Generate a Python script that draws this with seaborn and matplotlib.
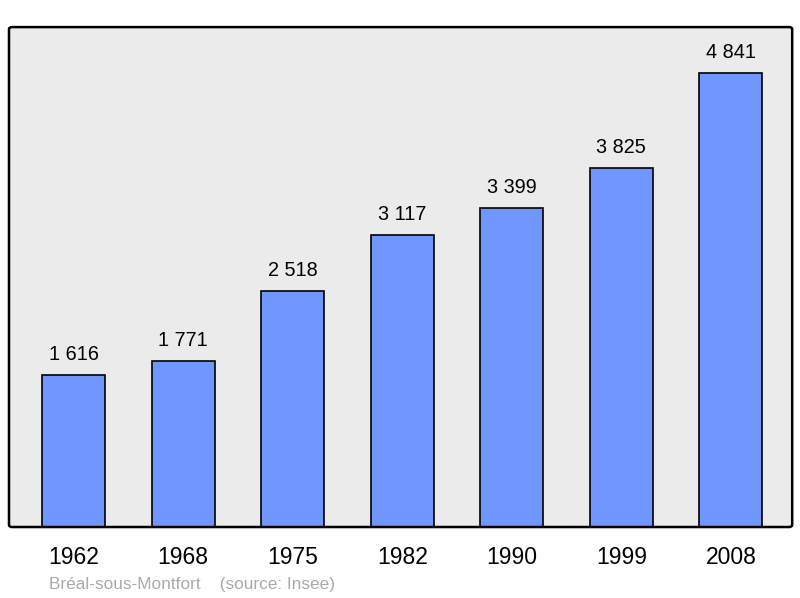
import numpy as np
import pandas as pd
import seaborn as sns
import matplotlib.pyplot as plt
from matplotlib.patches import FancyBboxPatch

years = ["1962", "1968", "1975", "1982", "1990", "1999", "2008"]
population = [1616, 1771, 2518, 3117, 3399, 3825, 4841]
caption = "Bréal-sous-Montfort    (source: Insee)"

df = pd.DataFrame({"year": years, "population": population})

sns.set_style("white")
plt.rcParams["font.family"] = ["Liberation Sans", "DejaVu Sans"]

fig = plt.figure(figsize=(8, 5.98), dpi=100)
ax = fig.add_axes([0.01125, 0.1187, 0.979, 0.836])
ax.set_facecolor("#ebebeb")

sns.barplot(data=df, x="year", y="population", color="#7097ff", saturation=1,
            width=0.575, edgecolor="black", linewidth=1.2, ax=ax)

for i, v in enumerate(population):
    ax.annotate(f"{v:,}".replace(",", " "), (i, v), xytext=(0, 8),
                textcoords="offset points", ha="center", va="bottom",
                fontsize=14.3, color="black")

ax.set_xlim(-0.59, 6.56)
ax.set_ylim(0, 5330)
ax.set_xlabel("")
ax.set_ylabel("")
ax.set_yticks([])
ax.tick_params(axis="x", length=0, pad=14, labelsize=16.5, labelcolor="black")
for s in ax.spines.values():
    s.set_visible(False)

frame = FancyBboxPatch((0, 0), 1, 1, boxstyle="round,pad=0,rounding_size=0.004",
                       transform=ax.transAxes, fill=False, edgecolor="black",
                       linewidth=1.8, clip_on=False, zorder=5)
ax.add_patch(frame)

fig.text(49 / 800, 1 - 584 / 598, caption, color="#aaaaaa", fontsize=12.4,
         ha="left", va="center")

fig.savefig("out.png", dpi=100)
